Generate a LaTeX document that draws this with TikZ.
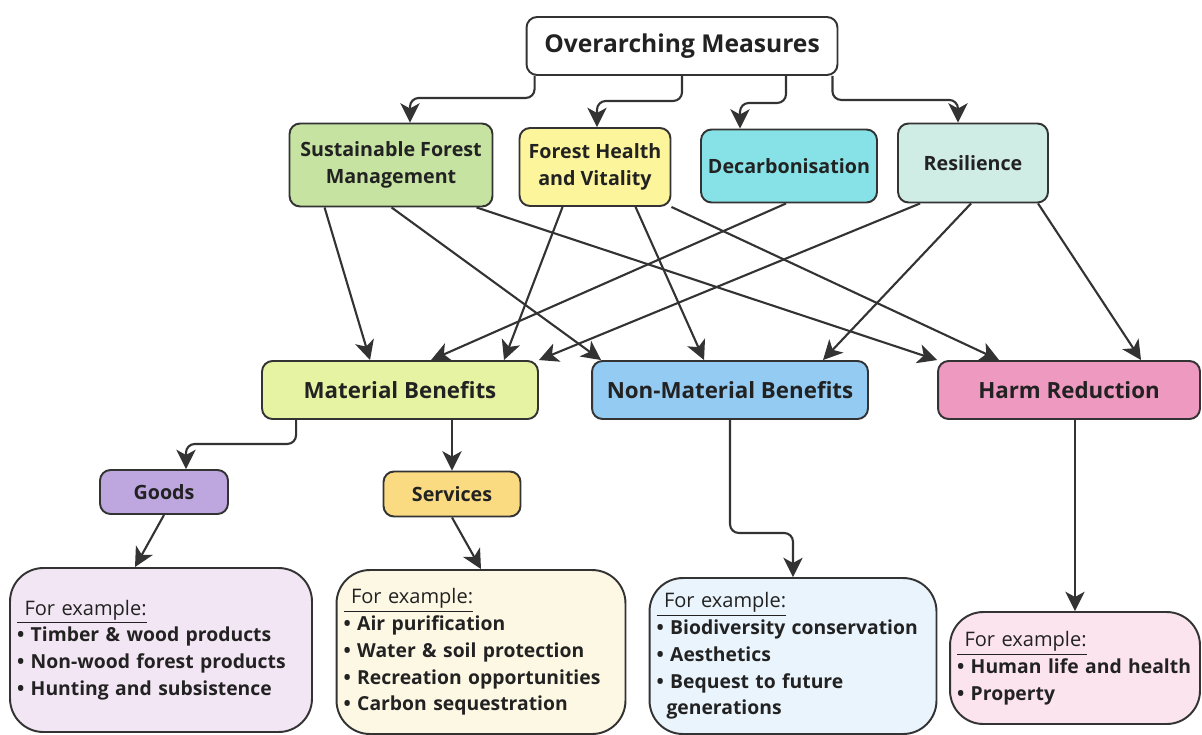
\documentclass[tikz,border=0pt]{standalone}
\usepackage{fontspec}
\setmainfont{Open Sans}
\usetikzlibrary{arrows.meta}

\definecolor{linec}{HTML}{333333}
\definecolor{textc}{HTML}{222222}
\definecolor{sfmc}{HTML}{C6E3A2}
\definecolor{fhvc}{HTML}{FDF59C}
\definecolor{decc}{HTML}{86E2E6}
\definecolor{resc}{HTML}{CFECE5}
\definecolor{mbc}{HTML}{E6F3A3}
\definecolor{nmbc}{HTML}{94CBF3}
\definecolor{hrc}{HTML}{EE99C0}
\definecolor{goodsc}{HTML}{BDA7DE}
\definecolor{servc}{HTML}{FADB82}
\definecolor{exgoodsc}{HTML}{F3E6F4}
\definecolor{exservc}{HTML}{FDF8E4}
\definecolor{exnmbc}{HTML}{E9F4FD}
\definecolor{exhrc}{HTML}{FCE4EE}

\newcommand{\topfont}{\fontsize{14}{17}\selectfont\bfseries}
\newcommand{\boxfont}{\fontsize{11.2}{15}\selectfont\bfseries}
\newcommand{\benefitfont}{\fontsize{12.7}{15}\selectfont\bfseries}
\newcommand{\examplefont}{\fontsize{11}{15.2}\selectfont\bfseries}
\newcommand{\forex}{{\mdseries\fontsize{11.4}{15.2}\selectfont\underline{\hspace{0.15cm}For example:}}}

\tikzset{
  box/.style={draw=linec, line width=1.1pt, rounded corners=6pt, align=center,
    font=\boxfont, text=textc, inner sep=2pt},
  benefit/.style={box, font=\benefitfont, minimum height=1.16cm},
  exbox/.style={draw=linec, line width=1.1pt, rounded corners=19pt, align=left,
    font=\examplefont, text=textc, inner xsep=0.14cm},
  arr/.style={draw=linec, line width=1.2pt, rounded corners=5pt,
    -{Stealth[length=11pt,width=11pt,inset=3pt]}},
}

\begin{document}
\begin{tikzpicture}[x=0.02cm, y=-0.02cm]
  \useasboundingbox (0,0) rectangle (1202,734);

  % top
  \node[box, fill=white, font=\topfont, minimum width=6.22cm, minimum height=1.16cm] (om) at (682,46) {Overarching Measures};

  % measures
  \node[box, fill=sfmc, minimum width=4.06cm, minimum height=1.66cm] (sfm) at (391,165) {Sustainable Forest\\Management};
  \node[box, fill=fhvc, minimum width=3.02cm, minimum height=1.56cm] (fhv) at (595,167) {Forest Health\\and Vitality};
  \node[box, fill=decc, minimum width=3.52cm, minimum height=1.46cm] (dec) at (789,166) {Decarbonisation};
  \node[box, fill=resc, minimum width=3.0cm, minimum height=1.58cm] (res) at (973,163) {Resilience};

  % benefits
  \node[benefit, fill=mbc, minimum width=5.52cm] (mb) at (400,390) {Material Benefits};
  \node[benefit, fill=nmbc, minimum width=5.52cm] (nmb) at (730,390) {Non-Material Benefits};
  \node[benefit, fill=hrc, minimum width=5.24cm] (hr) at (1069,390) {Harm Reduction};

  \node[box, fill=goodsc, minimum width=2.56cm, minimum height=0.88cm] (goods) at (164,492) {Goods};
  \node[box, fill=servc, minimum width=2.74cm, minimum height=0.9cm] (serv) at (452,494) {Services};

  % examples
  \node[exbox, fill=exgoodsc, minimum width=6.04cm, minimum height=3.28cm, text width=5.76cm] (exgoods) at (161,650)
    {\forex\\\textbullet\ Timber \& wood products\\\textbullet\ Non-wood forest products\\\textbullet\ Hunting and subsistence};
  \node[exbox, fill=exservc, minimum width=5.78cm, minimum height=3.28cm, text width=5.5cm] (exserv) at (481,652)
    {\forex\\\textbullet\ Air purification\\\textbullet\ Water \& soil protection\\\textbullet\ Recreation opportunities\\\textbullet\ Carbon sequestration};
  \node[exbox, fill=exnmbc, minimum width=5.74cm, minimum height=3.12cm, text width=5.46cm] (exnmb) at (793,656)
    {\forex\\\textbullet\ Biodiversity conservation\\\textbullet\ Aesthetics\\\textbullet\ Bequest to future\\\hspace*{0.2cm}generations};
  \node[exbox, fill=exhrc, minimum width=5.0cm, minimum height=2.24cm, text width=4.72cm] (exhr) at (1075,668)
    {\forex\\\textbullet\ Human life and health\\\textbullet\ Property};

  % overarching -> measures
  \draw[arr] ([xshift=0.18cm]om.south west) -- ++(0,22) -| ([xshift=0.38cm]sfm.north);
  \draw[arr] (om.south) -- ++(0,25) -| ([xshift=0.04cm]fhv.north);
  \draw[arr] ([xshift=2.08cm]om.south) -- ++(0,27) -| ([xshift=-0.98cm]dec.north);
  \draw[arr] ([xshift=-0.12cm]om.south east) -- ++(0,24) -| ([xshift=-0.3cm]res.north);

  % measures -> benefits
  \draw[arr] ([xshift=0.72cm]sfm.south west) -- ([xshift=2.18cm]mb.north west);
  \draw[arr] ([xshift=2.06cm]sfm.south west) -- ([xshift=0.2cm]nmb.north west);
  \draw[arr] ([xshift=3.76cm]sfm.south west) -- (hr.north west);
  \draw[arr] ([xshift=0.88cm]fhv.south west) -- ([xshift=4.86cm]mb.north west);
  \draw[arr] ([xshift=2.34cm]fhv.south west) -- ([xshift=2.26cm]nmb.north west);
  \draw[arr] (fhv.south east) -- ([xshift=1.24cm]hr.north west);
  \draw[arr] ([xshift=1.72cm]dec.south west) -- ([xshift=3.4cm]mb.north west);
  \draw[arr] ([xshift=0.46cm]res.south west) -- (mb.north east);
  \draw[arr] ([xshift=1.48cm]res.south west) -- ([xshift=4.64cm]nmb.north west);
  \draw[arr] ([xshift=2.82cm]res.south west) -- ([xshift=4.08cm]hr.north west);

  % benefits -> examples
  \draw[arr] ([xshift=0.7cm]mb.south west) -- ++(0,24) -| ([xshift=0.44cm]goods.north);
  \draw[arr] (serv.north |- mb.south) -- (serv.north);
  \draw[arr] (goods.south) -- ([xshift=-0.52cm]exgoods.north);
  \draw[arr] (serv.south) -- (exserv.north);
  \draw[arr] (nmb.south) -- ++(0,113) -| (exnmb.north);
  \draw[arr] (exhr.north |- hr.south) -- (exhr.north);
\end{tikzpicture}
\end{document}
